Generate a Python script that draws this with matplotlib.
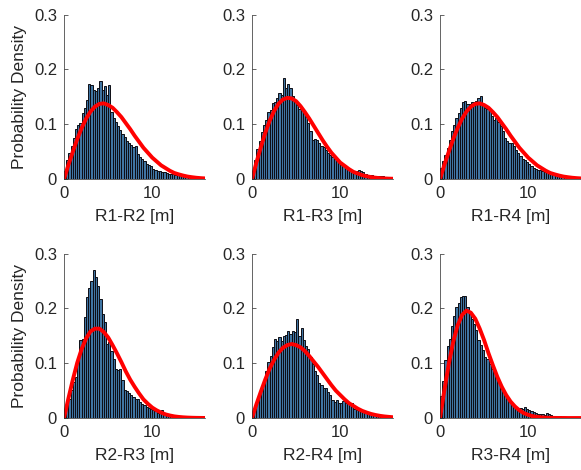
import numpy as np
import matplotlib
matplotlib.use("Agg")
import matplotlib.pyplot as plt

plt.rcParams['font.family'] = ['Liberation Sans', 'DejaVu Sans']

# bin edges (0.25 m wide) and x grid of the fitted curves
bin_edges = np.arange(0, 16.01, 0.25)
curve_x = np.arange(0, 16.01, 0.5)

labels = ["R1-R2 [m]", "R1-R3 [m]", "R1-R4 [m]",
          "R2-R3 [m]", "R2-R4 [m]", "R3-R4 [m]"]

# histogram densities
h_r1r2 = [0.015, 0.035, 0.048, 0.060, 0.075, 0.092, 0.098, 0.102, 0.120, 0.130,
          0.145, 0.174, 0.172, 0.163, 0.160, 0.166, 0.178, 0.163, 0.169, 0.154,
          0.172, 0.122, 0.112, 0.104, 0.097, 0.090, 0.083, 0.077, 0.070, 0.066,
          0.062, 0.058, 0.060, 0.046, 0.040, 0.036, 0.032, 0.028, 0.026, 0.023,
          0.019, 0.016, 0.015, 0.014, 0.013, 0.012, 0.011, 0.010, 0.009, 0.009,
          0.008, 0.007, 0.007, 0.006, 0.005, 0.005, 0.004, 0.004, 0.004, 0.003,
          0.004, 0.003, 0.003, 0.003]
h_r1r3 = [0.015, 0.034, 0.055, 0.070, 0.085, 0.098, 0.108, 0.123, 0.126, 0.138,
          0.141, 0.147, 0.157, 0.154, 0.184, 0.166, 0.174, 0.166, 0.151, 0.144,
          0.135, 0.128, 0.126, 0.121, 0.113, 0.102, 0.087, 0.072, 0.073, 0.071,
          0.065, 0.060, 0.058, 0.053, 0.047, 0.044, 0.040, 0.037, 0.032, 0.029,
          0.026, 0.024, 0.022, 0.020, 0.017, 0.015, 0.015, 0.014, 0.016, 0.014,
          0.012, 0.010, 0.008, 0.007, 0.007, 0.006, 0.006, 0.006, 0.005, 0.005,
          0.004, 0.004, 0.003, 0.003]
h_r1r4 = [0.020, 0.032, 0.044, 0.056, 0.072, 0.088, 0.098, 0.112, 0.120, 0.130,
          0.140, 0.143, 0.137, 0.136, 0.140, 0.141, 0.143, 0.148, 0.151, 0.136,
          0.130, 0.127, 0.124, 0.115, 0.108, 0.111, 0.104, 0.097, 0.088, 0.075,
          0.069, 0.066, 0.065, 0.061, 0.053, 0.048, 0.042, 0.037, 0.035, 0.031,
          0.028, 0.024, 0.021, 0.018, 0.017, 0.016, 0.014, 0.013, 0.012, 0.011,
          0.010, 0.009, 0.009, 0.010, 0.008, 0.006, 0.005, 0.005, 0.004, 0.004,
          0.004, 0.003, 0.003, 0.003]
h_r2r3 = [0.006, 0.018, 0.035, 0.052, 0.065, 0.075, 0.100, 0.143, 0.144, 0.185,
          0.220, 0.238, 0.250, 0.270, 0.257, 0.240, 0.217, 0.190, 0.175, 0.135,
          0.138, 0.123, 0.108, 0.090, 0.088, 0.090, 0.070, 0.052, 0.050, 0.046,
          0.042, 0.039, 0.035, 0.035, 0.029, 0.026, 0.024, 0.021, 0.018, 0.016,
          0.014, 0.012, 0.010, 0.011, 0.014, 0.009, 0.008, 0.007, 0.006, 0.005,
          0.005, 0.004, 0.004, 0.003, 0.003, 0.003, 0.002, 0.002, 0.003, 0.002,
          0.002, 0.002, 0.001, 0.001]
h_r2r4 = [0.008, 0.018, 0.030, 0.043, 0.055, 0.070, 0.086, 0.102, 0.114, 0.130,
          0.145, 0.140, 0.147, 0.140, 0.150, 0.151, 0.158, 0.154, 0.159, 0.156,
          0.181, 0.150, 0.165, 0.143, 0.132, 0.126, 0.112, 0.098, 0.086, 0.078,
          0.064, 0.060, 0.054, 0.055, 0.047, 0.042, 0.032, 0.029, 0.032, 0.028,
          0.027, 0.031, 0.028, 0.025, 0.023, 0.028, 0.017, 0.014, 0.016, 0.015,
          0.011, 0.011, 0.010, 0.009, 0.008, 0.007, 0.006, 0.005, 0.005, 0.004,
          0.004, 0.003, 0.003, 0.003]
h_r3r4 = [0.040, 0.068, 0.105, 0.132, 0.144, 0.168, 0.186, 0.202, 0.210, 0.220,
          0.223, 0.222, 0.202, 0.195, 0.180, 0.172, 0.160, 0.142, 0.133, 0.124,
          0.112, 0.108, 0.098, 0.090, 0.084, 0.075, 0.066, 0.053, 0.047, 0.041,
          0.035, 0.029, 0.024, 0.020, 0.017, 0.016, 0.018, 0.017, 0.020, 0.016,
          0.014, 0.012, 0.011, 0.010, 0.008, 0.007, 0.007, 0.006, 0.009, 0.008,
          0.005, 0.004, 0.004, 0.003, 0.003, 0.002, 0.002, 0.002, 0.002, 0.001,
          0.001, 0.001, 0.001, 0.001]

# fitted pdf curves, read every 0.5 m
f_r1r2 = [0, 0.026, 0.050, 0.073, 0.093, 0.110, 0.123, 0.132, 0.137, 0.138,
          0.135, 0.130, 0.122, 0.113, 0.102, 0.091, 0.079, 0.068, 0.057, 0.048,
          0.039, 0.032, 0.025, 0.020, 0.015, 0.011, 0.0085, 0.0063, 0.0045,
          0.0033, 0.0023, 0.0016, 0.0011]
f_r1r3 = [0, 0.030, 0.058, 0.084, 0.106, 0.124, 0.137, 0.145, 0.148, 0.147,
          0.142, 0.133, 0.122, 0.110, 0.097, 0.084, 0.071, 0.059, 0.048, 0.039,
          0.030, 0.024, 0.018, 0.013, 0.010, 0.007, 0.005, 0.0035, 0.0024,
          0.0016, 0.0011, 0.0007, 0.0005]
f_r1r4 = [0, 0.026, 0.050, 0.073, 0.093, 0.110, 0.123, 0.132, 0.137, 0.138,
          0.135, 0.130, 0.122, 0.113, 0.102, 0.091, 0.079, 0.068, 0.057, 0.048,
          0.039, 0.032, 0.025, 0.020, 0.015, 0.011, 0.0085, 0.0063, 0.0045,
          0.0033, 0.0023, 0.0016, 0.0011]
f_r2r3 = [0, 0.036, 0.070, 0.101, 0.126, 0.145, 0.158, 0.163, 0.163, 0.157,
          0.147, 0.133, 0.118, 0.102, 0.085, 0.070, 0.057, 0.045, 0.034, 0.026,
          0.019, 0.014, 0.010, 0.0067, 0.0046, 0.0030, 0.0020, 0.0013, 0.0008,
          0.0005, 0.0003, 0.0002, 0.0001]
f_r2r4 = [0, 0.025, 0.048, 0.070, 0.090, 0.106, 0.119, 0.128, 0.133, 0.135,
          0.133, 0.129, 0.122, 0.113, 0.103, 0.093, 0.082, 0.071, 0.060, 0.050,
          0.042, 0.034, 0.027, 0.022, 0.017, 0.013, 0.010, 0.0074, 0.0055,
          0.0040, 0.0029, 0.0021, 0.0014]
f_r3r4 = [0, 0.051, 0.099, 0.139, 0.169, 0.188, 0.196, 0.192, 0.181, 0.163,
          0.142, 0.118, 0.096, 0.075, 0.057, 0.042, 0.030, 0.021, 0.014, 0.009,
          0.0057, 0.0035, 0.0021, 0.0012, 0.0007, 0.0004, 0.0002, 0.0001,
          0.0001, 0, 0, 0, 0]

hists = [h_r1r2, h_r1r3, h_r1r4, h_r2r3, h_r2r4, h_r3r4]
fits = [f_r1r2, f_r1r3, f_r1r4, f_r2r3, f_r2r4, f_r3r4]

txt = (0.15, 0.15, 0.15)

fig = plt.figure(figsize=(5.81, 4.70), dpi=100)

lefts = [0.1102, 0.4337, 0.7573]
bottoms = [0.6191, 0.1106]
w, h = 0.243, 0.350

for i in range(6):
    r, c = divmod(i, 3)
    ax = fig.add_axes([lefts[c], bottoms[r], w, h])
    ax.bar(bin_edges[:-1], hists[i], width=0.25, align='edge',
           color=(0.25, 0.46, 0.64), edgecolor=(0.05, 0.05, 0.08), linewidth=0.7)
    ax.plot(curve_x, fits[i], color='red', linewidth=2.8)
    ax.set_xlim(0, 16)
    ax.set_ylim(0, 0.3)
    ax.set_xticks([0, 10])
    ax.set_yticks([0, 0.1, 0.2, 0.3])
    ax.set_yticklabels(["0", "0.1", "0.2", "0.3"])
    for s in ["top", "right"]:
        ax.spines[s].set_visible(False)
    for s in ["left", "bottom"]:
        ax.spines[s].set_color(txt)
        ax.spines[s].set_linewidth(0.5)
    ax.tick_params(direction='in', length=3, width=0.5, labelsize=12,
                   colors=txt, pad=5)
    ax.set_xlabel(labels[i], fontsize=12.5, color=txt, labelpad=6)
    if c == 0:
        ax.set_ylabel("Probability Density", fontsize=12.5,
                      color=txt, labelpad=5)

fig.savefig("out.png", dpi=100)
